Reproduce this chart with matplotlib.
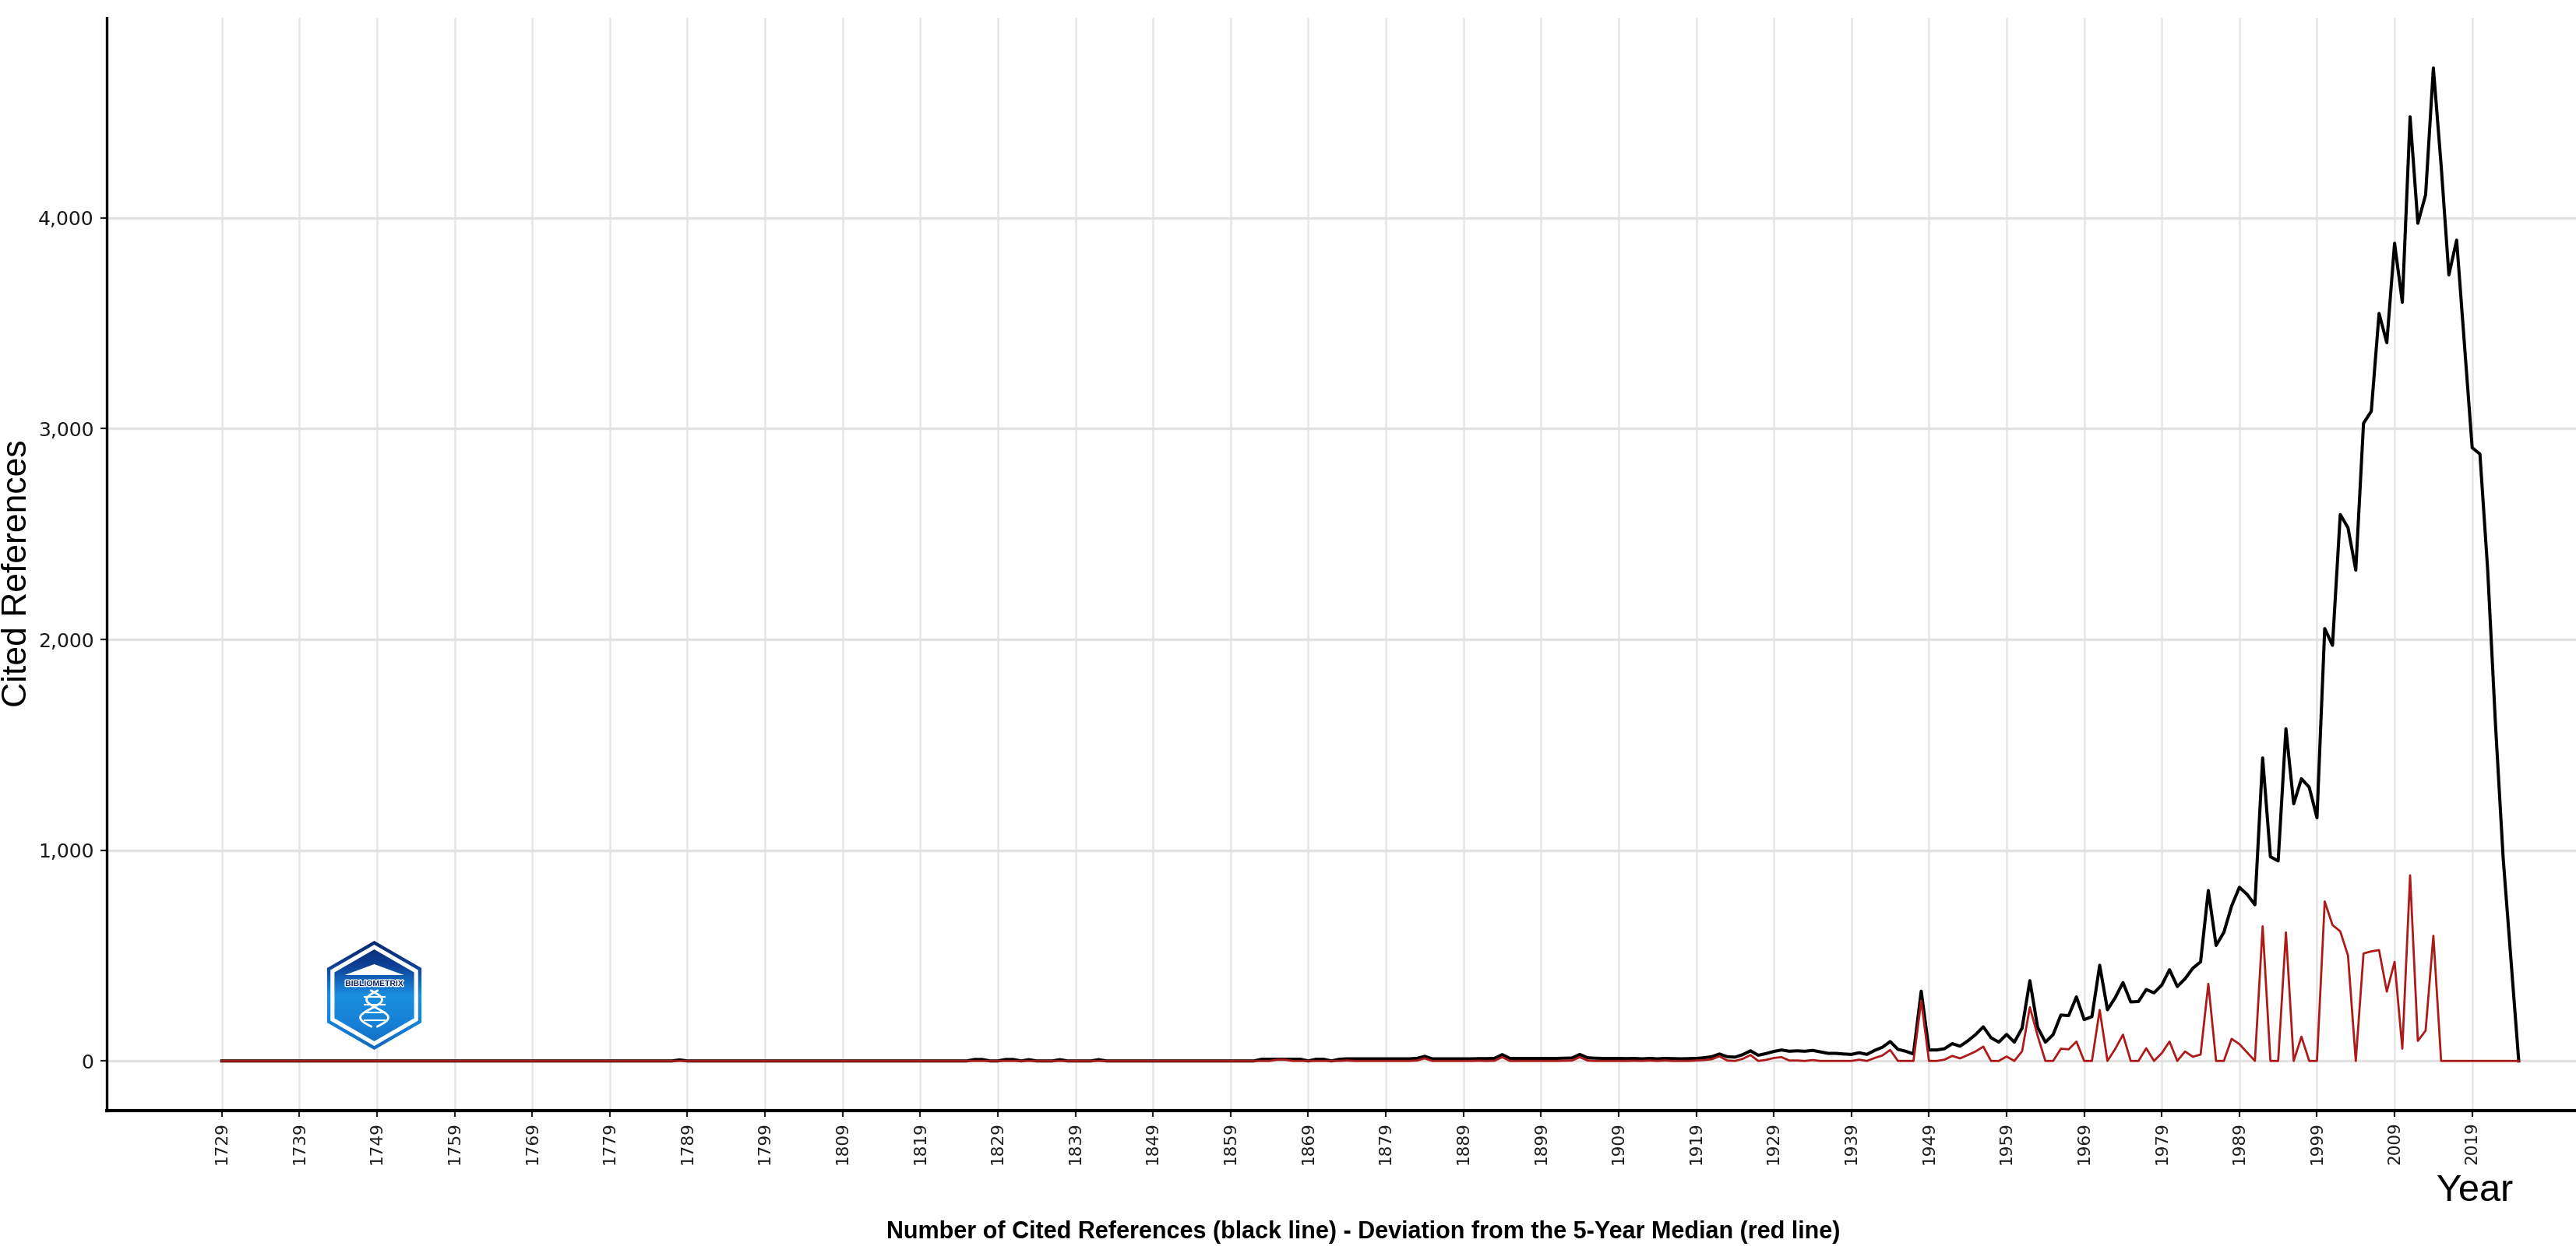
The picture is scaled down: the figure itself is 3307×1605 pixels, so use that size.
import matplotlib
matplotlib.use("Agg")
import matplotlib.pyplot as plt
import numpy as np
from matplotlib.patches import Polygon
from matplotlib.colors import LinearSegmentedColormap
import matplotlib.patheffects as pe

W, H = 3307, 1605

# publication years of the cited references
years = list(range(1729, 2026))

# number of cited references (black line), one row = 10 years starting 1729
cited = [
    0, 0, 0, 0, 0, 0, 0, 0, 0, 0,
    0, 0, 0, 0, 0, 0, 0, 0, 0, 0,
    0, 0, 0, 0, 0, 0, 0, 0, 0, 0,
    0, 0, 0, 0, 0, 0, 0, 0, 0, 0,
    0, 0, 0, 0, 0, 0, 0, 0, 0, 0,
    0, 0, 0, 0, 0, 0, 0, 0, 0, 5,
    0, 0, 0, 0, 0, 0, 0, 0, 0, 0,
    0, 0, 0, 0, 0, 0, 0, 0, 0, 0,
    0, 0, 0, 0, 0, 0, 0, 0, 0, 0,
    0, 0, 0, 0, 0, 0, 0, 7, 7, 0,
    0, 7, 7, 0, 6, 0, 0, 0, 6, 0,
    0, 0, 0, 6, 0, 0, 0, 0, 0, 0,
    0, 0, 0, 0, 0, 0, 0, 0, 0, 0,
    0, 0, 0, 0, 8, 8, 8, 8, 8, 8,
    0, 8, 8, 0, 8, 10, 10, 10, 10, 10,
    10, 10, 10, 10, 12, 22, 10, 10, 10, 10,
    10, 10, 11, 11, 12, 30, 12, 12, 12, 12,
    12, 12, 12, 13, 14, 31, 15, 13, 12, 12,
    12, 11, 12, 10, 12, 10, 12, 11, 10, 11,
    12, 15, 20, 33, 20, 18, 30, 48, 27, 35,
    45, 52, 46, 48, 46, 50, 43, 36, 36, 33,
    31, 39, 31, 50, 65, 92, 55, 46, 33, 331,
    52, 52, 58, 82, 70, 95, 125, 162, 110, 89,
    126, 89, 156, 381, 160, 89, 125, 218, 215, 304,
    196, 210, 454, 243, 300, 372, 280, 282, 339, 323,
    360, 433, 353, 390, 440, 470, 809, 548, 610, 735,
    824, 790, 741, 1438, 969, 949, 1576, 1220, 1339, 1299,
    1154, 2052, 1972, 2593, 2530, 2329, 3026, 3083, 3547, 3408,
    3880, 3600, 4480, 3975, 4110, 4712, 4250, 3730, 3895, 3400,
    2910, 2880, 2330, 1600, 960, 480, 0,
]

# deviation from the 5-year median (red line), same layout
deviation = [
    0, 0, 0, 0, 0, 0, 0, 0, 0, 0,
    0, 0, 0, 0, 0, 0, 0, 0, 0, 0,
    0, 0, 0, 0, 0, 0, 0, 0, 0, 0,
    0, 0, 0, 0, 0, 0, 0, 0, 0, 0,
    0, 0, 0, 0, 0, 0, 0, 0, 0, 0,
    0, 0, 0, 0, 0, 0, 0, 0, 0, 0,
    0, 0, 0, 0, 0, 0, 0, 0, 0, 0,
    0, 0, 0, 0, 0, 0, 0, 0, 0, 0,
    0, 0, 0, 0, 0, 0, 0, 0, 0, 0,
    0, 0, 0, 0, 0, 0, 0, 0, 0, 0,
    0, 0, 0, 0, 0, 0, 0, 0, 0, 0,
    0, 0, 0, 0, 0, 0, 0, 0, 0, 0,
    0, 0, 0, 0, 0, 0, 0, 0, 0, 0,
    0, 0, 0, 0, 0, 0, 6, 6, 0, 0,
    0, 0, 0, 0, 0, 2, 0, 0, 0, 0,
    0, 0, 0, 0, 2, 12, 0, 0, 0, 0,
    0, 0, 1, 0, 1, 18, 0, 0, 0, 0,
    0, 0, 0, 1, 2, 18, 2, 0, 0, 0,
    0, 0, 1, 0, 2, 0, 2, 0, 0, 0,
    2, 4, 8, 22, 2, 0, 10, 28, 0, 5,
    14, 18, 2, 2, 0, 4, 0, 0, 0, 0,
    0, 6, 0, 14, 26, 52, 0, 0, 0, 286,
    0, 0, 6, 24, 12, 28, 45, 68, 0, 0,
    21, 0, 46, 255, 120, 0, 0, 58, 55, 92,
    0, 0, 242, 0, 57, 125, 0, 0, 60, 0,
    37, 92, 0, 45, 20, 30, 366, 0, 0, 105,
    80, 40, 0, 639, 0, 0, 610, 0, 115, 0,
    0, 757, 645, 615, 500, 0, 510, 520, 526, 329,
    470, 58, 881, 95, 144, 594, 0, 0, 0, 0,
    0, 0, 0, 0, 0, 0, 0,
]

xticks = list(range(1729, 2020, 10))
yticks = [0, 1000, 2000, 3000, 4000]
ytick_labels = ["0", "1,000", "2,000", "3,000", "4,000"]

sans = ["Liberation Sans", "DejaVu Sans"]

fig = plt.figure(figsize=(W / 100, H / 100), dpi=100)
# panel runs past the right edge of the picture, like the cropped original
ax = fig.add_axes([0.04152, 0.11153, 0.98083, 0.87383])

ax.plot(years, cited, color="black", lw=2.9, zorder=3)
ax.plot(years, deviation, color="#ad1a1a", lw=2.0, zorder=4)

ax.set_xlim(1714.2, 2039.8)
ax.set_ylim(-235.6, 4947.6)

ax.set_xticks(xticks)
ax.set_xticklabels([str(y) for y in xticks], rotation=90, fontsize=15.5,
                   color="#1a1a1a", family="DejaVu Sans")
ax.set_yticks(yticks)
ax.set_yticklabels(ytick_labels, fontsize=18, color="#1a1a1a", family="DejaVu Sans")

ax.grid(axis="x", color="#e6e6e6", lw=1.8)
ax.grid(axis="y", color="#e2e2e2", lw=2.4)
ax.set_axisbelow(True)

for s in ["top", "right"]:
    ax.spines[s].set_visible(False)
ax.spines["left"].set_linewidth(2.4)
ax.spines["bottom"].set_linewidth(3.0)
ax.tick_params(axis="x", length=6, width=1.6, pad=4, color="#222222")
ax.tick_params(axis="y", length=6, width=1.6, pad=6, color="#222222")

# titles
fig.text(3177 / W, 1 - 1530 / H, "Year", fontsize=35, family=sans,
         ha="center", va="center")
fig.text(23 / W, 1 - 736 / H, "Cited References", fontsize=32, family=sans,
         rotation=90, ha="center", va="center")
fig.text(1750 / W, 1 - 1590 / H,
         "Number of Cited References (black line) - Deviation from the 5-Year Median (red line)",
         fontsize=22, fontweight="bold", family=sans, ha="center", va="baseline")
# the title sits above the top edge; only its descenders show
fig.text(150 / W, 1 + 22 / H, "Reference Publication Year Spectroscopy",
         fontsize=55, fontweight="bold", family=sans, ha="left", va="baseline")

# bibliometrix logo
lax = fig.add_axes([405 / W, 1 - 1356 / H, 150 / W, 156 / H])
lax.set_xlim(405, 555)
lax.set_ylim(1356, 1200)
lax.axis("off")
cx, cy, R = 480.5, 1278, 70


def hexagon(r):
    a = np.radians(np.arange(90, 450, 60))
    return np.column_stack([cx + r * np.cos(a), cy - r * np.sin(a)])


cmap = LinearSegmentedColormap.from_list(
    "logo", ["#0a2466", "#0c3f95", "#1a8fe0", "#1680d6", "#0f63b8"])
grad = np.linspace(0, 1, 200).reshape(-1, 1)

outer = Polygon(hexagon(R), closed=True, facecolor="none", edgecolor="none")
lax.add_patch(outer)
im1 = lax.imshow(grad, extent=(405, 555, 1356, 1200), cmap=cmap, aspect="auto", zorder=1)
im1.set_clip_path(outer)
lax.add_patch(Polygon(hexagon(R - 5), closed=True, facecolor="white",
                      edgecolor="none", zorder=2))
inner = Polygon(hexagon(R - 11), closed=True, facecolor="none", edgecolor="none")
lax.add_patch(inner)
im2 = lax.imshow(grad, extent=(405, 555, 1356, 1200), cmap=cmap, aspect="auto", zorder=3)
im2.set_clip_path(inner)

# white roof and helix
lax.add_patch(Polygon([[cx - 38, 1252], [cx, 1238], [cx + 38, 1252]], closed=True,
                      facecolor="white", edgecolor="none", zorder=4))
hy = np.linspace(1272, 1318, 40)
lax.plot(cx - 4 + 14 * np.sin((hy - 1272) / 46 * 2 * np.pi), hy, color="white", lw=2, zorder=5)
lax.plot(cx + 4 - 14 * np.sin((hy - 1272) / 46 * 2 * np.pi), hy, color="white", lw=2, zorder=5)
for ry in [1280, 1290, 1300, 1310]:
    lax.plot([cx - 13, cx + 13], [ry, ry], color="white", lw=1.5, zorder=5)
lax.text(cx, 1263, "BIBLIOMETRIX", fontsize=7.5, fontweight="bold", color="#0a2466",
         ha="center", va="center", family=sans, zorder=6,
         path_effects=[pe.withStroke(linewidth=2, foreground="white")])

fig.savefig("out.png", dpi=100)
